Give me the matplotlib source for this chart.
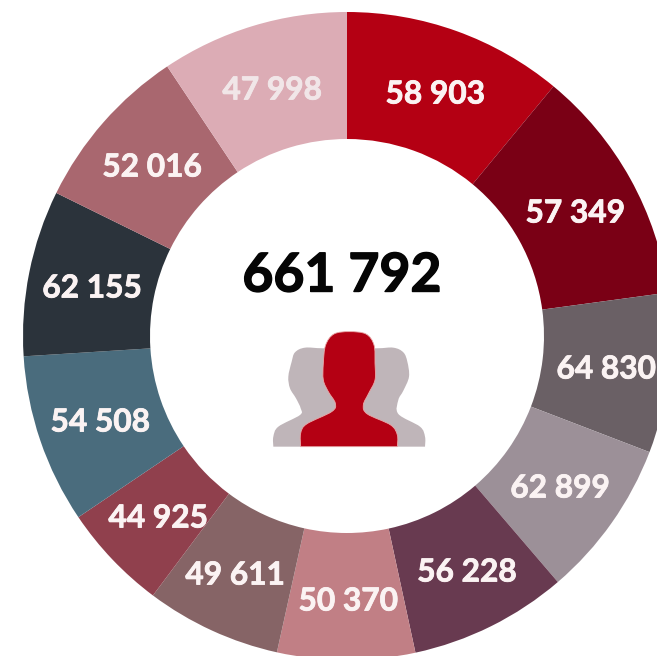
import numpy as np
import matplotlib
matplotlib.use("Agg")
import matplotlib.pyplot as plt
import matplotlib.patheffects as pe
from matplotlib.path import Path
from matplotlib.patches import PathPatch

total_label = "661 792"
value_labels = ["58 903", "57 349", "64 830", "62 899", "56 228", "50 370",
                "49 611", "44 925", "54 508", "62 155", "52 016", "47 998"]
# The reference does not draw its slices in proportion to the values,
# so the angular widths (degrees) are read from the picture separately.
slice_spans = [39.6, 42.7, 28.7, 28.4, 28.4, 24.7, 24.3, 19.2, 30.4, 29.8, 30.1, 33.7]
slice_colors = ["#B40013", "#7A0015", "#6A6065", "#9C9098", "#683A50", "#C17F85",
                "#866466", "#90404D", "#4A6C7D", "#2B333B", "#A9676F", "#DCACB5"]
label_colors = ["#FBF3F3"] * 11 + ["#F1E6E8"]
label_xy = [(435, 94), (575, 213), (606, 369), (560, 488), (467, 572), (348, 601),
            (235, 575), (158, 518), (100, 422), (92, 288), (152, 167), (272, 90)]

W, H = 657, 656
fig = plt.figure(figsize=(W / 100, H / 100), dpi=100, facecolor="white")
ax = fig.add_axes([0, 0, 1, 1])

wedges, _ = ax.pie(slice_spans, colors=slice_colors, startangle=90, counterclock=False,
                   radius=324, center=(347, H - 336),
                   wedgeprops=dict(width=127, linewidth=0))
ax.set_xlim(0, W)
ax.set_ylim(0, H)
ax.set_aspect("equal")
ax.axis("off")

for text, color, (x, y) in zip(value_labels, label_colors, label_xy):
    t = ax.text(x, H - y, text, color=color, ha="center", va="center",
                family="Lato", weight="bold", fontsize=22.8)
    t.set_path_effects([pe.withStroke(linewidth=0.6, foreground=color)])

t = ax.text(342, H - 276, total_label, color="#050505", ha="center", va="center",
            family="Lato", weight="bold", fontsize=38.5)
t.set_path_effects([pe.withStroke(linewidth=1.0, foreground="#050505")])


def smooth_closed_bottom(points, color, edge="none", lw=0):
    """Catmull-Rom outline through zoomed icon points, flat along the bottom."""
    pts = np.array([(260 + x / 3, H - (320 + y / 3)) for x, y in points])
    verts, codes = [pts[0]], [Path.MOVETO]
    for i in range(len(pts) - 1):
        p0 = pts[max(i - 1, 0)]
        p1, p2 = pts[i], pts[i + 1]
        p3 = pts[min(i + 2, len(pts) - 1)]
        verts += [p1 + (p2 - p0) / 6, p2 - (p3 - p1) / 6, p2]
        codes += [Path.CURVE4] * 3
    verts.append(pts[0])
    codes.append(Path.CLOSEPOLY)
    ax.add_patch(PathPatch(Path(verts, codes), facecolor=color, edgecolor=edge, linewidth=lw))


gray_outline = [(40, 380), (40, 350), (55, 320), (120, 285), (122, 265), (108, 235),
                (90, 205), (85, 170), (95, 125), (105, 97), (135, 83), (195, 85),
                (345, 85), (400, 83), (430, 97), (442, 125), (447, 170), (430, 212),
                (415, 240), (415, 282), (480, 320), (495, 350), (495, 380)]
red_outline = [(122, 380), (122, 340), (140, 312), (215, 275), (226, 250), (205, 215),
               (190, 180), (190, 130), (197, 75), (222, 42), (268, 35), (318, 42),
               (342, 75), (345, 130), (345, 180), (326, 220), (310, 255), (322, 282),
               (392, 315), (412, 345), (412, 380)]
smooth_closed_bottom(gray_outline, "#BFB5B9")
smooth_closed_bottom(red_outline, "#B40013", edge="#E9A9A9", lw=0.6)

fig.savefig("out.png", dpi=100, facecolor="white")
